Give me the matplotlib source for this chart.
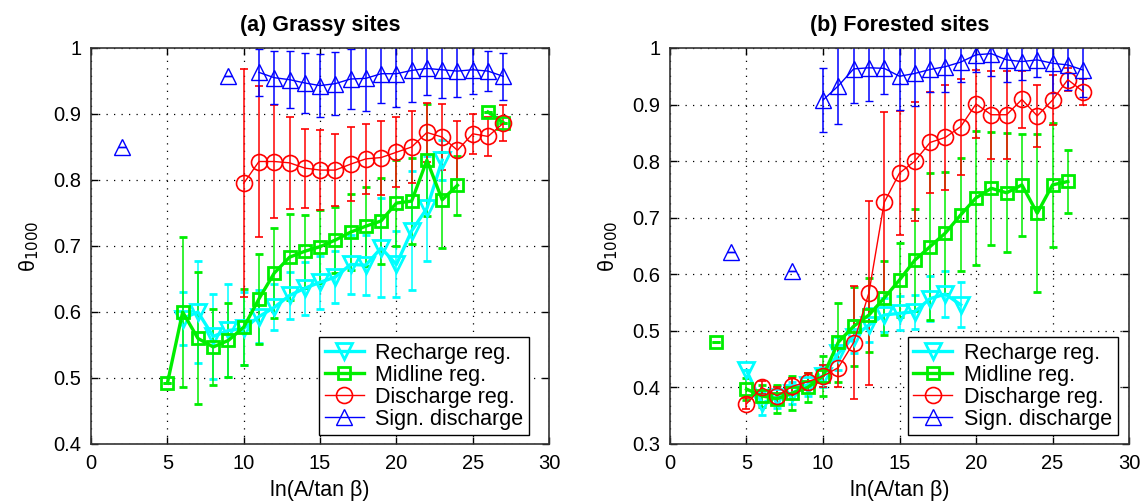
import numpy as np
import matplotlib
matplotlib.use('Agg')
import matplotlib.pyplot as plt

plt.rcParams['font.family'] = ['Liberation Sans', 'DejaVu Sans']

nan = np.nan
x = np.arange(1, 28)

# ---- (a) Grassy sites ----
a_recharge = [nan, nan, nan, nan, nan, 0.590, 0.600, 0.563, 0.572, 0.575,
              0.593, 0.607, 0.625, 0.636, 0.645, 0.653, 0.672, 0.671, 0.697, 0.672,
              0.723, 0.757, 0.830, nan, nan, nan, nan]
a_recharge_err = [0, 0, 0, 0, 0, 0.04, 0.077, 0.065, 0.07, 0.055,
                  0.04, 0.035, 0.035, 0.04, 0.04, 0.04, 0.045, 0.045, 0.075, 0.05,
                  0.09, 0.08, 0.03, 0, 0, 0, 0]
a_midline = [nan, nan, nan, nan, 0.492, 0.600, 0.560, 0.547, 0.557, 0.577,
             0.620, 0.659, 0.683, 0.692, 0.699, 0.709, 0.721, 0.730, 0.738, 0.765,
             0.768, 0.830, 0.770, 0.792, nan, 0.903, 0.887]
a_midline_err = [0, 0, 0, 0, 0, 0.113, 0.10, 0.058, 0.056, 0.058,
                 0.068, 0.068, 0.065, 0.055, 0.055, 0.05, 0.058, 0.06, 0.065, 0.065,
                 0.065, 0.085, 0.073, 0.045, 0, 0, 0]
a_discharge = [nan, nan, nan, nan, nan, nan, nan, nan, nan, 0.795,
               0.828, 0.828, 0.826, 0.818, 0.815, 0.815, 0.824, 0.832, 0.834, 0.842,
               0.850, 0.872, 0.865, 0.845, 0.870, 0.866, 0.886]
a_discharge_err = [0, 0, 0, 0, 0, 0, 0, 0, 0, 0.173,
                   0.115, 0.085, 0.07, 0.06, 0.06, 0.055, 0.056, 0.053, 0.056, 0.053,
                   0.055, 0.045, 0.05, 0.045, 0.03, 0.03, 0.027]
a_sign = [nan, 0.850, nan, nan, nan, nan, nan, nan, 0.958, nan,
          0.963, 0.955, 0.952, 0.947, 0.943, 0.946, 0.953, 0.954, 0.961, 0.961,
          0.966, 0.969, 0.967, 0.965, 0.967, 0.965, 0.957]
a_sign_err = [0, 0, 0, 0, 0, 0, 0, 0, 0, 0,
              0.036, 0.04, 0.043, 0.045, 0.048, 0.048, 0.045, 0.05, 0.045, 0.05,
              0.048, 0.04, 0.043, 0.04, 0.037, 0.03, 0.036]

# ---- (b) Forested sites ----
b_recharge = [nan, nan, nan, nan, 0.430, 0.372, 0.383, 0.390, 0.405, 0.420,
              0.460, 0.490, 0.510, 0.528, 0.531, 0.534, 0.557, 0.565, 0.546, nan,
              nan, nan, nan, nan, nan, nan, nan]
b_recharge_err = [0, 0, 0, 0, 0, 0.02, 0.02, 0.02, 0.02, 0.02,
                  0.03, 0.03, 0.03, 0.03, 0.03, 0.03, 0.04, 0.04, 0.04, 0,
                  0, 0, 0, 0, 0, 0, 0]
b_midline = [nan, nan, 0.480, nan, 0.397, 0.385, 0.380, 0.390, 0.400, 0.420,
             0.480, 0.508, 0.528, 0.558, 0.590, 0.625, 0.649, 0.673, 0.705, 0.735,
             0.752, 0.744, 0.758, 0.708, 0.758, 0.764, nan]
b_midline_err = [0, 0, 0, 0, 0.02, 0.02, 0.025, 0.03, 0.025, 0.035,
                 0.07, 0.07, 0.065, 0.065, 0.065, 0.09, 0.13, 0.107, 0.10, 0.118,
                 0.10, 0.105, 0.09, 0.14, 0.11, 0.056, 0]
b_discharge = [nan, nan, nan, nan, 0.371, 0.400, 0.385, 0.402, 0.410, 0.420,
               0.435, 0.479, 0.567, 0.727, 0.779, 0.800, 0.833, 0.842, 0.861, 0.901,
               0.882, 0.882, 0.909, 0.880, 0.908, 0.944, 0.923]
b_discharge_err = [0, 0, 0, 0, 0.01, 0.012, 0.015, 0.015, 0.015, 0.02,
                   0.035, 0.10, 0.163, 0.16, 0.11, 0.105, 0.09, 0.093, 0.085, 0.06,
                   0.078, 0.078, 0.05, 0.055, 0.045, 0.02, 0.023]
b_sign = [nan, nan, nan, 0.640, nan, nan, nan, 0.605, nan, 0.908,
          0.933, 0.963, 0.965, 0.964, 0.950, 0.955, 0.962, 0.967, 0.975, 0.988,
          0.990, 0.979, 0.976, 0.979, 0.973, 0.970, 0.961]
b_sign_err = [0, 0, 0, 0, 0, 0, 0, 0, 0, 0.056,
              0.068, 0.06, 0.058, 0.045, 0.06, 0.058, 0.04, 0.045, 0.035, 0.03,
              0.04, 0.04, 0.033, 0.03, 0.053, 0.044, 0.047]

labels = ['Recharge reg.', 'Midline reg.', 'Discharge reg.', 'Sign. discharge']
colors = ['#00ffff', '#00ee00', '#ff0000', '#0000ff']
markers = ['v', 's', 'o', '^']
msizes = [12, 9, 11.5, 11]
lwidths = [2.4, 2.4, 1.0, 1.0]
mew = [2.0, 2.0, 1.2, 1.0]


def panel(ax, series, title, ylim, yticks, leg_x):
    handles = []
    for (y, e), c, m, ms, lw, mw in zip(series, colors, markers, msizes, lwidths, mew):
        eb = ax.errorbar(x, y, yerr=e, color=c, marker=m, ms=ms, mfc='none',
                         mec=c, mew=mw, lw=lw, elinewidth=1.1, capsize=3,
                         capthick=1.1)
        handles.append(eb.lines[0])
    ax.set_xlim(0, 30)
    ax.set_ylim(*ylim)
    ax.set_xticks(range(0, 31, 5))
    ax.set_yticks(yticks)
    ax.set_yticklabels(['1' if abs(t - 1) < 1e-9 else f'{t:.1f}' for t in yticks])
    ax.grid(True, color='black', linestyle=(0, (1, 5)), linewidth=0.9)
    ax.tick_params(direction='in', top=True, right=True, length=5,
                   labelsize=14.5, width=1, pad=7)
    for s in ax.spines.values():
        s.set_linewidth(1.2)
        s.set_color('#333333')
    ax.set_title(title, fontsize=15.5, fontweight='bold', pad=12)
    ax.set_xlabel('ln(A/tan β)', fontsize=15.5, labelpad=5)
    ax.set_ylabel('θ$_{1000}$', fontsize=15.5, labelpad=9)
    leg = ax.legend(handles, labels, loc='lower right', fontsize=15.5,
                    bbox_to_anchor=(leg_x, 0.022),
                    fancybox=False, framealpha=1, edgecolor='black',
                    handlelength=1.8, labelspacing=0.05, borderpad=0.25,
                    borderaxespad=0, handletextpad=0.55)
    leg.get_frame().set_linewidth(1.0)


fig = plt.figure(figsize=(11.41, 5.03), dpi=100)
ax1 = fig.add_axes([0.0798, 0.1173, 0.4014, 0.7873])
ax2 = fig.add_axes([0.5872, 0.1173, 0.4023, 0.7873])

panel(ax1, [(a_recharge, a_recharge_err), (a_midline, a_midline_err),
            (a_discharge, a_discharge_err), (a_sign, a_sign_err)],
      '(a) Grassy sites', (0.4, 1.0), np.arange(0.4, 1.01, 0.1), 0.956)
panel(ax2, [(b_recharge, b_recharge_err), (b_midline, b_midline_err),
            (b_discharge, b_discharge_err), (b_sign, b_sign_err)],
      '(b) Forested sites', (0.3, 1.0), np.arange(0.3, 1.01, 0.1), 0.975)

fig.savefig('out.png', dpi=100)
